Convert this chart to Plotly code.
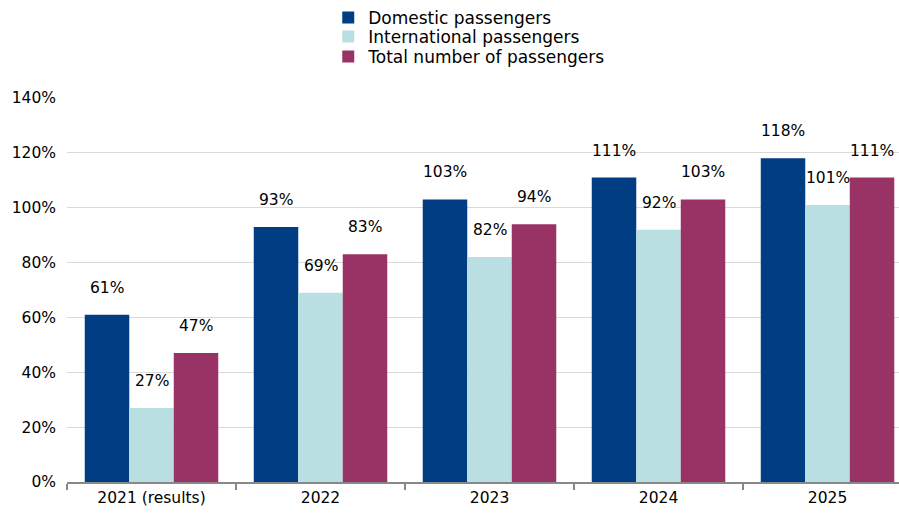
import plotly.graph_objects as go

categories = ["2021 (results)", "2022", "2023", "2024", "2025"]
domestic = [61, 93, 103, 111, 118]
international = [27, 69, 82, 92, 101]
total = [47, 83, 94, 103, 111]
series_names = ["Domestic passengers", "International passengers", "Total number of passengers"]
y_ticks = [0, 20, 40, 60, 80, 100, 120, 140]

colors = ["#003d82", "#b9dfe3", "#993366"]
FONT = "DejaVu Sans"
FS = 15.5

fig = go.Figure()
all_series = [domestic, international, total]
legend_ids = ["legend", "legend2", "legend3"]
for name, vals, c, lg in zip(series_names, all_series, colors, legend_ids):
    fig.add_trace(go.Bar(x=categories, y=vals, name=name, legend=lg, showlegend=True,
                         marker=dict(color=c, line=dict(width=0))))

annotations = []
offsets = [-0.262, 0, 0.262]
for vals, off in zip(all_series, offsets):
    for i, v in enumerate(vals):
        annotations.append(dict(x=i + off, y=v, xref="x", yref="y", text=f"{v}%", showarrow=False,
                                yshift=27, font=dict(family=FONT, size=FS, color="#000")))

legend_common = dict(orientation="v", xanchor="left", yanchor="middle",
                     font=dict(family=FONT, size=17, color="#000"), itemwidth=30,
                     bgcolor="rgba(0,0,0,0)", borderwidth=0)
lx = 0.314
fig.update_layout(
    width=899, height=516,
    showlegend=True,
    margin=dict(l=67, r=0, t=97, b=34),
    plot_bgcolor="white", paper_bgcolor="white",
    barmode="group", bargap=0.21, bargroupgap=0,
    font=dict(family=FONT, size=FS, color="#000"),
    legend=dict(x=lx, y=1.2078, **legend_common),
    legend2=dict(x=lx, y=1.1558, **legend_common),
    legend3=dict(x=lx, y=1.1039, **legend_common),
    annotations=annotations,
    xaxis=dict(range=[-0.5, 4.423], showline=True, linecolor="#888", linewidth=2,
               ticks="outside", tickson="boundaries", ticklen=6, tickcolor="#888", tickwidth=2,
               showgrid=False, tickfont=dict(family=FONT, size=FS)),
    yaxis=dict(range=[0, 140], tickvals=y_ticks, ticktext=[f"{t}%" for t in y_ticks],
               showgrid=True, gridcolor="#d9d9d9", gridwidth=1, zeroline=False,
               showline=False, ticks="", ticklabelstandoff=10, tickfont=dict(family=FONT, size=FS)),
)

fig.write_html("out.html")
